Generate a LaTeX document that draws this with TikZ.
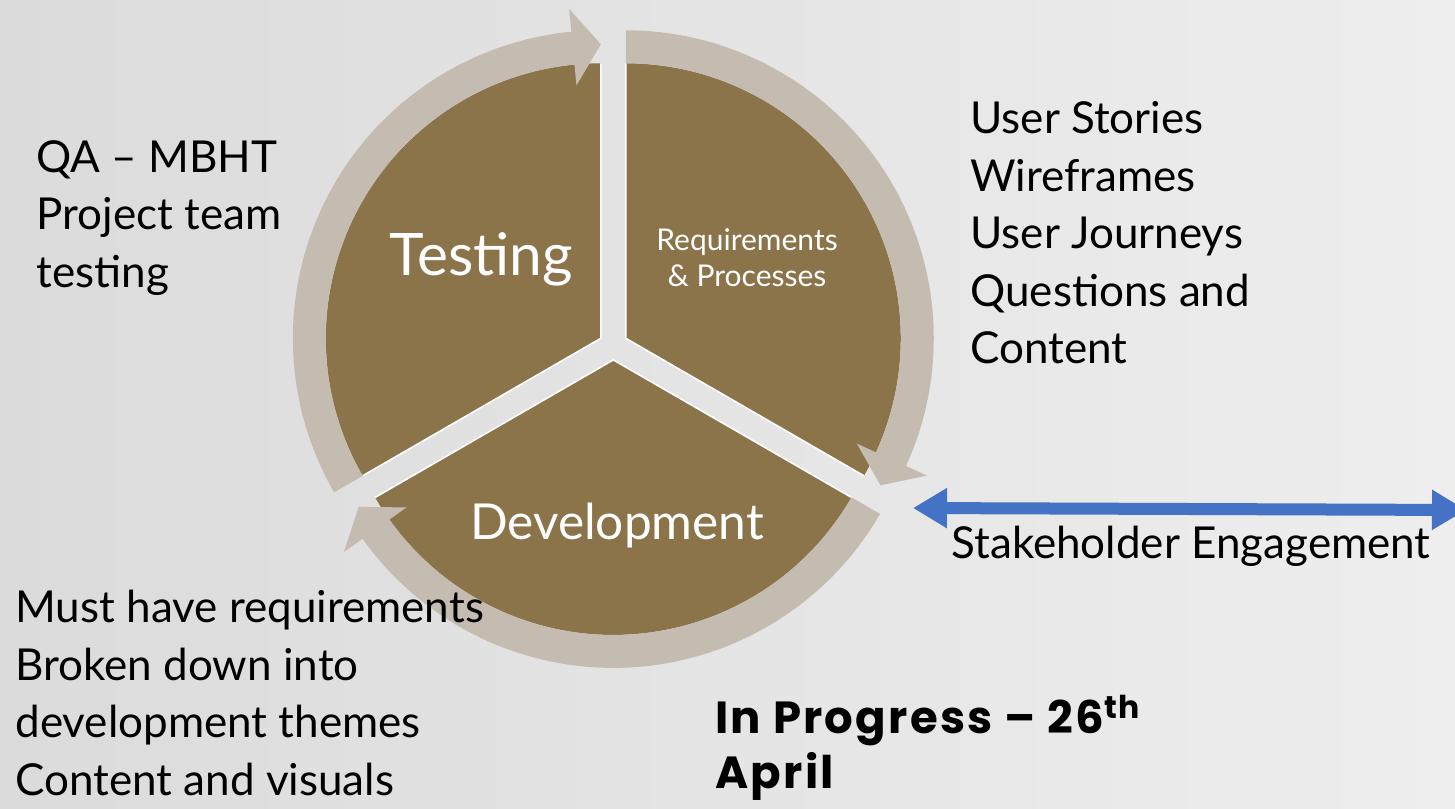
\documentclass[tikz,border=0pt]{standalone}
\usepackage{fontspec}
\setmainfont{Lato}
\newfontfamily\handfont{Poppins}[LetterSpace=5]
\usetikzlibrary{arrows.meta}

\definecolor{segbrown}{HTML}{8B734A}
\definecolor{ringgray}{HTML}{C4BCB1}
\definecolor{engageblue}{HTML}{4472C4}
\definecolor{bgdark}{HTML}{DBDBDB}
\definecolor{bglight}{HTML}{EEEEEE}

\begin{document}
\begin{tikzpicture}[x=0.5pt,y=-0.5pt,
    segment/.style={fill=segbrown},
    ringarrow/.style={fill=ringgray},
    seglabel/.style={text=white,inner sep=0pt},
    sidetext/.style={align=left,anchor=north west,inner sep=0pt,font=\fontsize{22}{28.75}\selectfont},
    engage/.style={draw=engageblue,line width=6pt,{Triangle[length=17pt,width=19pt]}-{Triangle[length=17pt,width=19pt]}}]

        % draw the background
        \shade[left color=bgdark,right color=bglight] (0,0) rectangle (1455,808);
        \useasboundingbox (0,0) rectangle (1455,808);
        \clip (0,0) rectangle (1455,808);

        % draw the three segments with their ring arrows
        \foreach \mid/\from [evaluate=\from as \arcend using \from+114.5,
                             evaluate=\from as \tipang using \from+120] in {210/150, 330/270, 90/30} {
                \begin{scope}[shift={(613.3,345.5)}, shift={(\mid:14.4)}]
                        % the brown segment
                        \fill[segment] (0,0) -- (\from:275) arc[start angle=\from, end angle=\tipang, radius=275] -- cycle;
                        \draw[white,line width=0.8pt] (\from:275) -- (0,0) -- (\tipang:275);
                        % the arrow round it
                        \fill[ringarrow] (\from:275) arc[start angle=\from, end angle=\arcend, radius=275]
                                -- (\arcend:254) -- (\tipang:294) -- (\arcend:331) -- (\arcend:308)
                                arc[start angle=\arcend, end angle=\from, radius=308] -- cycle;
                \end{scope}
        }

        % draw the segment labels
        \node[seglabel,font=\fontsize{29.3}{34}\selectfont,anchor=base] (testing) at (481.5,275) {Testing};
        \node[seglabel,font=\fontsize{15}{18}\selectfont,align=center] (requirements) at (747,258) {Requirements\\\& Processes};
        \node[seglabel,font=\fontsize{24.8}{29}\selectfont,anchor=base] (development) at (617,539) {Development};

        % draw the notes round the cycle
        \node[sidetext] (qa) at (36,140) {QA \textendash{} MBHT\\Project team\\testing};
        \node[sidetext] (stories) at (970,101) {User Stories\\Wireframes\\User Journeys\\Questions and\\Content};
        \node[sidetext] (musthave) at (15,590) {Must have requirements\\Broken down into\\development themes\\Content and visuals};
        \node[sidetext,anchor=base west] (stakeholder) at (951,558) {Stakeholder Engagement};
        \node[sidetext,font={\handfont\bfseries\fontsize{22.5}{27.5}\selectfont}] (progress) at (715,695)
                {In Progress \textendash{} 26\textsuperscript{th}\\April};

        % draw the stakeholder arrow
        \coordinate (engageL) at (913,508);
        \coordinate (engageR) at (1466,510);
        \draw[engage] (engageL) -- (engageR);
\end{tikzpicture}
\end{document}
